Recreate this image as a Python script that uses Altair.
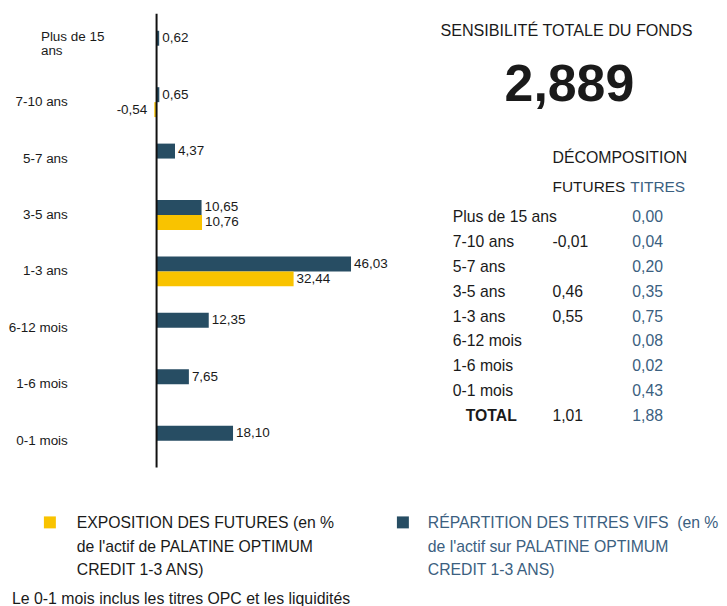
import altair as alt
import pandas as pd

# ---------------- data ----------------
categories = ["Plus de 15 ans", "7-10 ans", "5-7 ans", "3-5 ans",
              "1-3 ans", "6-12 mois", "1-6 mois", "0-1 mois"]
category_labels = ["Plus de 15\nans", "7-10 ans", "5-7 ans", "3-5 ans",
                   "1-3 ans", "6-12 mois", "1-6 mois", "0-1 mois"]
titres_pct = [0.62, 0.65, 4.37, 10.65, 46.03, 12.35, 7.65, 18.10]
futures_pct = [None, -0.54, None, 10.76, 32.44, None, None, None]

sensibilite_totale = "2,889"
decomp_futures = ["", "-0,01", "", "0,46", "0,55", "", "", "", "1,01"]
decomp_titres = ["0,00", "0,04", "0,20", "0,35", "0,75", "0,08", "0,02", "0,43", "1,88"]
decomp_rows = categories + ["TOTAL"]

legend_futures = ["EXPOSITION DES FUTURES (en %", "de l'actif de PALATINE OPTIMUM", "CREDIT 1-3 ANS)"]
legend_titres = ["RÉPARTITION DES TITRES VIFS\u00a0 (en %", "de l'actif sur PALATINE OPTIMUM", "CREDIT 1-3 ANS)"]
footnote = "Le 0-1 mois inclus les titres OPC et les liquidités"

# ---------------- style ----------------
FONT = "Liberation Sans"
DARK = "#274d63"
YELLOW = "#f9c300"
BLUE = "#3b6080"
BLACK = "#1a1a1a"

rows = []
for c, t, f in zip(categories, titres_pct, futures_pct):
    rows.append({"cat": c, "series": "titres", "value": t})
    if f is not None:
        rows.append({"cat": c, "series": "futures", "value": f})
bar_df = pd.DataFrame(rows)

xscale = alt.Scale(domain=[-35.17, 132.67], nice=False, zero=False)
yscale = alt.Scale(domain=categories, range=[8.7, 461.3], paddingInner=0.47, paddingOuter=0.235)
yoff = alt.YOffset("series:N", sort=["titres", "futures"],
                   scale=alt.Scale(domain=["titres", "futures"]))

base = alt.Chart(bar_df).transform_calculate(
    label="replace(replace(format(datum.value, '.2f'), '.', ','), '\u2212', '-')"
)

bars = base.mark_bar().encode(
    x=alt.X("value:Q", scale=xscale, axis=None),
    y=alt.Y("cat:N", scale=yscale, axis=None, sort=categories),
    yOffset=yoff,
    color=alt.Color("series:N", scale=alt.Scale(domain=["futures", "titres"], range=[YELLOW, DARK]), legend=None),
)

pos_labels = base.transform_filter("datum.value >= 0").mark_text(
    align="left", baseline="middle", dx=3, font=FONT, fontSize=13.5, color=BLACK
).encode(
    x=alt.X("value:Q", scale=xscale, axis=None),
    y=alt.Y("cat:N", scale=yscale, axis=None, sort=categories),
    yOffset=yoff,
    text="label:N",
)

neg_labels = base.transform_filter("datum.value < 0").mark_text(
    align="right", baseline="middle", dx=-7, font=FONT, fontSize=13.5, color=BLACK
).encode(
    x=alt.X("value:Q", scale=xscale, axis=None),
    y=alt.Y("cat:N", scale=yscale, axis=None, sort=categories),
    yOffset=yoff,
    text="label:N",
)

zero_rule = alt.Chart(pd.DataFrame({"z": [0]})).mark_rule(color="#111", strokeWidth=2).encode(
    x=alt.X("z:Q", scale=xscale, axis=None),
    y=alt.value(5),
    y2=alt.value(460),
)

cat_df = pd.DataFrame({"cat": categories, "lab": category_labels})
cat_text = alt.Chart(cat_df).transform_filter(
    "indexof(datum.lab, '\\n') < 0"
).mark_text(align="right", baseline="middle", font=FONT, fontSize=13.5, color=BLACK).encode(
    x=alt.value(60),
    y=alt.Y("cat:N", scale=yscale, axis=None, sort=categories),
    text="lab:N",
)
cat_text_multi = alt.Chart(cat_df).transform_filter(
    "indexof(datum.lab, '\\n') >= 0"
).mark_text(align="left", baseline="middle", font=FONT, fontSize=13.5, color=BLACK,
            lineBreak="\n", lineHeight=14, dy=-8.5).encode(
    x=alt.value(33),
    y=alt.Y("cat:N", scale=yscale, axis=None, sort=categories),
    text="lab:N",
)

# ---------------- right panel ----------------
def txt(s, x, y, size=15.8, color=BLACK, align="left", weight="normal", baseline="middle"):
    return alt.Chart(pd.DataFrame({"t": [s]})).mark_text(
        align=align, baseline=baseline, font=FONT, fontSize=size, color=color, fontWeight=weight
    ).encode(x=alt.value(x), y=alt.value(y), text="t:N")

title_sens = txt("SENSIBILITÉ TOTALE DU FONDS", 560, 22, size=16.2, align="center")
big_value = txt(sensibilite_totale, 563, 92, size=52, align="center", weight="bold", baseline="alphabetic")
decomp_title = txt("DÉCOMPOSITION", 546, 150, size=15.9)
hdr_fut = txt("FUTURES", 546, 179, size=15.5)
hdr_tit = txt("TITRES", 624, 179, size=15.5, color=BLUE)

table_df = pd.DataFrame({
    "i": list(range(len(decomp_rows))),
    "row": decomp_rows,
    "fut": decomp_futures,
    "tit": decomp_titres,
})
TS = 15.8
tbase = alt.Chart(table_df).transform_calculate(py="209 + datum.i * 24.9")
ty = alt.Y("py:Q", scale=None, axis=None)
t_labels = tbase.transform_filter("datum.row != 'TOTAL'").mark_text(
    align="left", baseline="middle", font=FONT, fontSize=TS, color=BLACK
).encode(x=alt.value(446), y=ty, text="row:N")
t_total = tbase.transform_filter("datum.row == 'TOTAL'").mark_text(
    align="left", baseline="middle", font=FONT, fontSize=TS, color=BLACK, fontWeight="bold"
).encode(x=alt.value(459), y=ty, text="row:N")
t_fut = tbase.mark_text(
    align="left", baseline="middle", font=FONT, fontSize=TS, color=BLACK
).encode(x=alt.value(546), y=ty, text="fut:N")
t_tit = tbase.mark_text(
    align="left", baseline="middle", font=FONT, fontSize=TS, color=BLUE
).encode(x=alt.value(626), y=ty, text="tit:N")

# ---------------- legend ----------------
leg_sq = alt.Chart(pd.DataFrame({"series": ["futures", "titres"], "px": [42, 396]})).mark_square(
    size=144, opacity=1
).encode(
    x=alt.X("px:Q", scale=None, axis=None),
    y=alt.value(515),
    color=alt.Color("series:N", scale=alt.Scale(domain=["futures", "titres"], range=[YELLOW, DARK]), legend=None),
)
leg_fut = alt.Chart(pd.DataFrame({"t": [0]})).mark_text(
    align="left", baseline="alphabetic", font=FONT, fontSize=15.8, color=BLACK,
    lineHeight=23.5, text=legend_futures
).encode(x=alt.value(69), y=alt.value(521))
leg_tit = alt.Chart(pd.DataFrame({"t": [0]})).mark_text(
    align="left", baseline="alphabetic", font=FONT, fontSize=15.8, color=BLUE,
    lineHeight=23.5, text=legend_titres
).encode(x=alt.value(421), y=alt.value(521))
foot = txt(footnote, 4, 597, size=15.9, baseline="alphabetic")

chart = alt.layer(
    bars, pos_labels, neg_labels, zero_rule, cat_text, cat_text_multi,
    title_sens, big_value, decomp_title, hdr_fut, hdr_tit,
    t_labels, t_total, t_fut, t_tit,
    leg_sq, leg_fut, leg_tit, foot,
).properties(width=711, height=598, padding=0).configure_view(stroke=None)

chart.save("out.html", embed_options={"renderer": "svg", "actions": False})
